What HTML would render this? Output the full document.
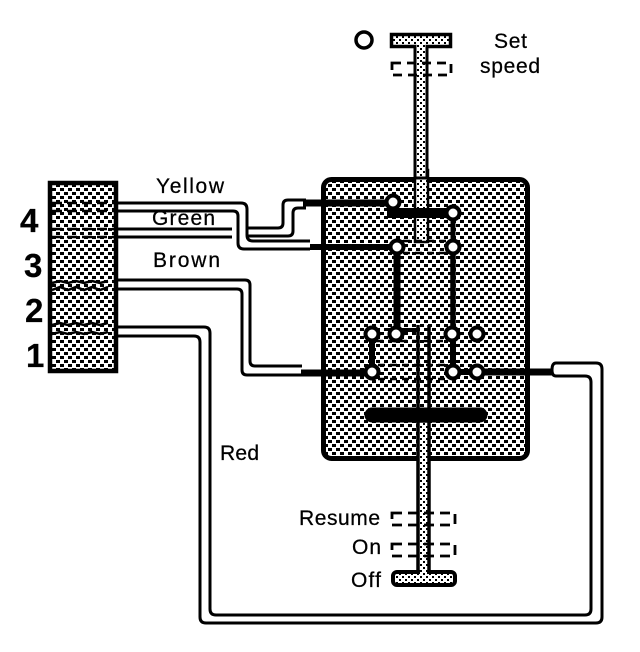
<!DOCTYPE html>
<html>
<head>
<meta charset="utf-8">
<style>
html,body{margin:0;padding:0;background:#fff;width:640px;height:652px;overflow:hidden}
svg{display:block}
text{font-family:"Liberation Sans",sans-serif;fill:#000;stroke:#000;stroke-width:0.25}
</style>
</head>
<body>
<svg width="640" height="652" viewBox="0 0 640 652" xmlns="http://www.w3.org/2000/svg">
<defs>
<pattern id="h" width="8" height="8" patternUnits="userSpaceOnUse">
<rect width="8" height="8" fill="#fff"/>
<rect x="0" y="0" width="4" height="3" fill="#000"/>
<rect x="4" y="4" width="4" height="3" fill="#000"/>
</pattern>
<pattern id="s" width="6" height="6" patternUnits="userSpaceOnUse">
<rect width="6" height="6" fill="#fff"/>
<rect x="0" y="0" width="2" height="2" fill="#000"/>
<rect x="3" y="3" width="2" height="2" fill="#000"/>
</pattern>
</defs>

<!-- connector block -->
<rect x="50" y="183" width="66" height="188" fill="url(#h)" stroke="#000" stroke-width="4.5"/>
<g fill="none" stroke="#000" stroke-width="2.5">
<path d="M52 203H114M52 211H114M52 229H114M52 237H114" stroke-dasharray="10 5"/>
<path d="M52 283l8-2 8 2 8-2 8 2 8-2 8 2 8-2M52 290l8-3 8 3 8-3 8 3 8-3 8 3 8-3M52 325l8-2 8 2 8-2 8 2 8-2 8 2 8-2M52 334l8-2 8 2 8-2 8 2 8-2 8 2 8-2"/>
</g>

<!-- wires -->
<g fill="none" stroke="#000" stroke-width="3" stroke-linejoin="round">
<!-- yellow -->
<path d="M116 203H241Q247 203 247 209V235Q247 241 253 241H310"/>
<path d="M116 211H233Q238 211 238 216V243Q238 249 244 249H310"/>
<!-- green -->
<path d="M116 229H232M116 237H232"/>
<path d="M247 228H278Q283 228 283 223V205Q283 200 288 200H306"/>
<path d="M247 236H288Q293 236 293 231V213Q293 208 298 208H306"/>
<!-- brown -->
<path d="M116 280H245Q250 280 250 285V361Q250 366 255 366H302"/>
<path d="M116 289H237Q242 289 242 294V370Q242 375 247 375H302"/>
<!-- red -->
<path d="M116 327H204Q210 327 210 333V609Q210 615 216 615H585Q591 615 591 609V382Q591 376 585 376H556Q552 376 552 370Q552 363 556 363H596Q602 363 602 369V617Q602 623 596 623H206Q200 623 200 617V342Q200 336 194 336H116"/>
</g>

<!-- body -->
<rect x="323.5" y="179.5" width="204" height="279" rx="8" fill="url(#h)" stroke="#000" stroke-width="5"/>

<!-- upper shaft in body -->
<rect x="415" y="170" width="13" height="72" fill="url(#s)" stroke="#000" stroke-width="2.5"/>
<!-- lower shaft in body -->
<path d="M418 325V415M429 325V415" stroke="#000" stroke-width="3.5" fill="none"/>

<!-- internal thick lines -->
<g fill="none" stroke="#000">
<path d="M303 203H393" stroke-width="7"/>
<path d="M387 213H453" stroke-width="10"/>
<path d="M453 213V247" stroke-width="5"/>
<path d="M310 247H397" stroke-width="6"/>
<path d="M397 247V334" stroke-width="7"/>
<path d="M453 247V334" stroke-width="5.5"/>
<path d="M372 334V372" stroke-width="6"/>
<path d="M453 334V372" stroke-width="6"/>
<path d="M301 373H372" stroke-width="7"/>
<path d="M477 372H552" stroke-width="7"/>
<path d="M453 372H477" stroke-width="6"/>
<path d="M388 330H418" stroke-width="4"/>
<path d="M372 415H480" stroke-width="15" stroke-linecap="round"/>
</g>
<g fill="none" stroke="#000" stroke-width="2.5" stroke-dasharray="7 5">
<path d="M403 241H448M403 253H448M378 365H448M378 379H448"/>
<path d="M376 341H448"/>
</g>

<!-- terminals -->
<g fill="#fff" stroke="#000" stroke-width="4">
<circle cx="393" cy="202" r="6.5"/>
<circle cx="453" cy="213" r="6.5"/>
<circle cx="397" cy="247" r="6.5"/>
<circle cx="453" cy="247" r="6.5"/>
<circle cx="372" cy="334" r="6.5"/>
<circle cx="396" cy="334" r="6.5"/>
<circle cx="452" cy="334" r="6.5"/>
<circle cx="477" cy="334" r="6.5"/>
<circle cx="372" cy="372" r="6.5"/>
<circle cx="453" cy="372" r="6.5"/>
<circle cx="477" cy="372" r="6.5"/>
</g>

<!-- top T -->
<rect x="415" y="44" width="12" height="134" fill="url(#s)" stroke="#000" stroke-width="3"/>
<rect x="391.5" y="34.5" width="59" height="12" fill="url(#s)" stroke="#000" stroke-width="3.5"/>
<rect x="416.5" y="43" width="9" height="6" fill="url(#s)"/>
<rect x="392" y="63" width="59" height="12" fill="none" stroke="#000" stroke-width="2.8" stroke-dasharray="9 6"/>
<circle cx="364" cy="40" r="8" fill="#fff" stroke="#000" stroke-width="3.5"/>

<!-- bottom T -->
<rect x="418" y="421" width="11" height="152" fill="url(#s)" stroke="#000" stroke-width="3.5"/>
<rect x="393" y="572" width="62" height="13" rx="4" fill="url(#s)" stroke="#000" stroke-width="4"/>
<rect x="420" y="570" width="7" height="5" fill="url(#s)"/>
<rect x="392" y="513" width="63" height="12" fill="none" stroke="#000" stroke-width="2.8" stroke-dasharray="10 6"/>
<rect x="392" y="544" width="63" height="12" fill="none" stroke="#000" stroke-width="2.8" stroke-dasharray="10 6"/>

<!-- labels -->
<text x="156" y="193" font-size="21" textLength="68" lengthAdjust="spacing">Yellow</text>
<text x="152" y="225" font-size="21" textLength="63" lengthAdjust="spacing">Green</text>
<text x="153" y="267" font-size="21" textLength="67" lengthAdjust="spacing">Brown</text>
<text x="220" y="460" font-size="21" textLength="39" lengthAdjust="spacing">Red</text>
<text x="494" y="48" font-size="21" textLength="33" lengthAdjust="spacing">Set</text>
<text x="480" y="73" font-size="21" textLength="60" lengthAdjust="spacing">speed</text>
<text x="299" y="525" font-size="21" textLength="81" lengthAdjust="spacing">Resume</text>
<text x="352" y="554" font-size="21" textLength="29" lengthAdjust="spacing">On</text>
<text x="351" y="587" font-size="21" textLength="30" lengthAdjust="spacing">Off</text>
<text x="20" y="232" font-size="33" font-weight="bold">4</text>
<text x="24" y="277" font-size="33" font-weight="bold">3</text>
<text x="25" y="322" font-size="33" font-weight="bold">2</text>
<text x="26" y="367" font-size="33" font-weight="bold">1</text>
</svg>
</body>
</html>
